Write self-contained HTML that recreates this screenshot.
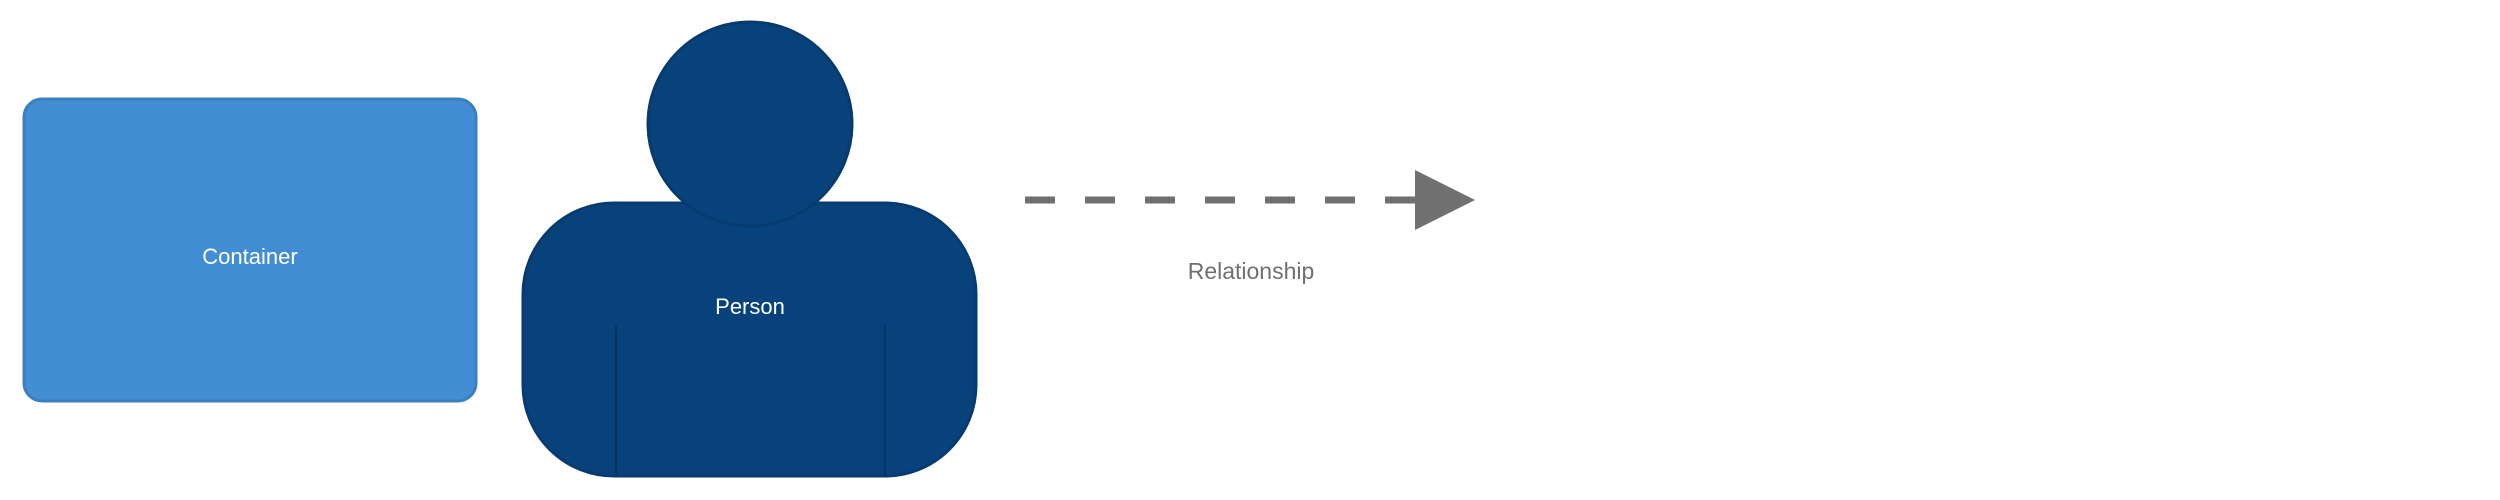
<!DOCTYPE html>
<html><head><meta charset="utf-8"><style>
html,body{margin:0;padding:0;background:#fff;}
svg{display:block;}
text{font-family:"Liberation Sans",sans-serif;}
</style></head><body>
<svg width="2500" height="500" viewBox="0 0 2500 500">
  <g>
    <rect x="24" y="99" width="452" height="302" rx="18" ry="18" fill="#438dd5" stroke="#3c7fc0" stroke-width="3"/>
    <text x="250" y="264" font-size="22" fill="#ffffff" text-anchor="middle">Container</text>
  </g>
  <g>
    <rect x="523" y="203" width="453" height="273" rx="91" ry="91" fill="#08427b" stroke="#073b6f" stroke-width="3"/>
    <line x1="616" y1="325" x2="616" y2="476" stroke="#073560" stroke-width="2"/>
    <line x1="885" y1="325" x2="885" y2="476" stroke="#073560" stroke-width="2"/>
    <circle cx="750" cy="124" r="102" fill="#08427b" stroke="#073b6f" stroke-width="3"/>
    <text x="750" y="314" font-size="22" fill="#ffffff" text-anchor="middle">Person</text>
  </g>
  <g>
    <line x1="1025" y1="200" x2="1418" y2="200" stroke="#707070" stroke-width="7" stroke-dasharray="30 30"/>
    <line x1="1385" y1="200" x2="1418" y2="200" stroke="#707070" stroke-width="7"/>
    <polygon points="1415,170 1475,200 1415,230" fill="#707070"/>
    <text x="1251" y="279" font-size="23" fill="#707070" text-anchor="middle">Relationship</text>
  </g>
</svg>
</body></html>
